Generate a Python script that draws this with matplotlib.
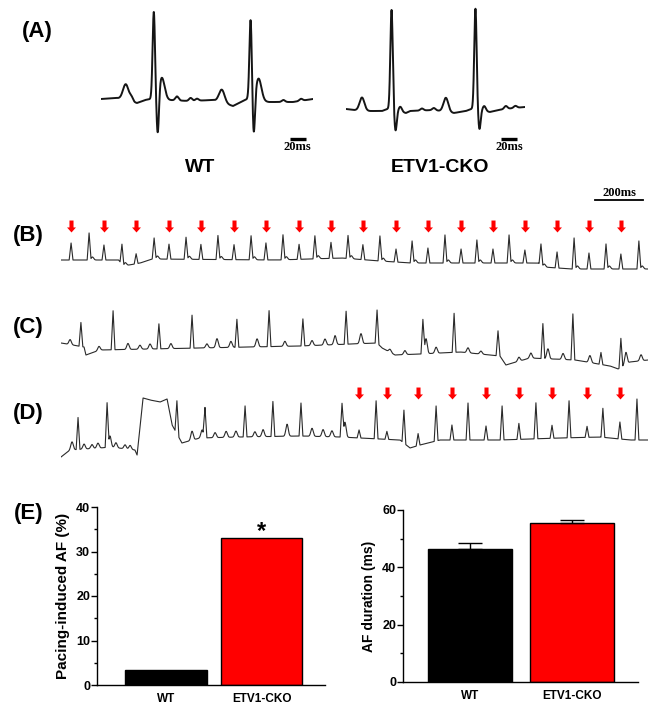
import numpy as np
import matplotlib.pyplot as plt
from matplotlib.path import Path

plt.rcParams["font.family"] = ["Liberation Sans", "DejaVu Sans"]
plt.rcParams["font.weight"] = "bold"

W, H = 661, 707

# ---------------- (A) single beats, time in ms, amplitude in mV
wt_p_t = [31, 151]
wt_p_v = [0.16, 0.13]
wt_r_t = [66, 187]
wt_r_v = [0.87, 0.80]
wt_s_t = [71, 191]
wt_s_v = [-0.41, -0.39]
wt_tw_t = [76, 197]
wt_tw_v = [0.22, 0.22]
wt_bump_t = [38, 95, 112, 120, 228, 250]
wt_bump_v = [0.04, 0.04, 0.03, 0.02, 0.02, 0.02]
wt_base_t = [0, 20, 45, 55, 62, 85, 110, 140, 165, 175, 183, 210, 240, 265]
wt_base_v = [0.0, 0.01, -0.04, -0.01, 0.0, -0.01, -0.02, -0.01, -0.07, -0.03, 0.0, -0.03, -0.03, 0.0]

ko_p_t = [20, 125]
ko_p_v = [0.13, 0.14]
ko_r_t = [57, 162]
ko_r_v = [1.00, 1.01]
ko_s_t = [62, 167]
ko_s_v = [-0.20, -0.19]
ko_tw_t = [68, 173]
ko_tw_v = [0.05, 0.05]
ko_bump_t = [95, 110, 200, 212]
ko_bump_v = [0.02, 0.02, 0.03, 0.02]
ko_base_t = [0, 10, 30, 45, 52, 75, 80, 110, 135, 150, 157, 180, 190, 210, 224]
ko_base_v = [0.0, -0.01, -0.02, -0.02, 0.0, -0.04, -0.02, -0.01, -0.04, -0.02, 0.0, -0.03, -0.01, 0.01, 0.02]

# ---------------- (B) paced rhythm, ms / mV
b_pace_t = [42, 179, 313, 450, 583, 721, 854, 992, 1125, 1258, 1396, 1529, 1667,
            1800, 1933, 2067, 2200, 2333]
b_pace_v = [0.17, 0.15, 0.10, 0.15, 0.15, 0.15, 0.17, 0.15, 0.16, 0.15, 0.13, 0.15,
            0.14, 0.14, 0.13, 0.16, 0.16, 0.15]
b_r_t = [117, 254, 388, 521, 654, 792, 925, 1058, 1196, 1329, 1463, 1600, 1733,
         1867, 2000, 2138, 2271, 2408]
b_r_v = [0.27, 0.20, 0.21, 0.22, 0.24, 0.24, 0.25, 0.23, 0.23, 0.25, 0.22, 0.28,
         0.23, 0.28, 0.21, 0.31, 0.25, 0.28]
b_base_t = [0, 240, 260, 330, 380, 900, 1170, 1330, 1460, 1990, 2010, 2130, 2446]
b_base_v = [0.0, 0.0, -0.06, -0.03, 0.01, 0.0, 0.02, -0.01, -0.03, -0.03, -0.07, -0.09, -0.09]

# ---------------- (C) atrial fibrillation
c_r_t = [83, 217, 408, 546, 733, 867, 1008, 1188, 1317, 1508, 1638, 1821, 2008,
         2133, 2250, 2333]
c_r_v = [0.24, 0.39, 0.25, 0.33, 0.28, 0.36, 0.27, 0.33, 0.33, 0.34, 0.39, 0.25,
         0.35, 0.46, 0.12, 0.29]
c_f_t = [38, 158, 279, 329, 371, 458, 608, 650, 708, 817, 933, 1046, 1100, 1142,
         1250, 1371, 1433, 1521, 1563, 1696, 1750, 1908, 1958, 2029, 2092, 2204,
         2354, 2417]
c_f_v = [0.05, 0.04, 0.06, 0.04, 0.05, 0.05, 0.04, 0.09, 0.06, 0.08, 0.05, 0.05,
         0.06, 0.09, 0.10, 0.03, 0.04, 0.15, 0.06, 0.05, 0.03, 0.04, 0.05, 0.10,
         0.06, 0.07, 0.12, 0.06]
c_base_t = [0, 96, 104, 163, 579, 996, 1317, 1338, 1392, 1496, 1663, 1829, 1854,
            1954, 2142, 2288, 2321, 2371, 2446]
c_base_v = [0.04, 0.0, -0.08, -0.03, -0.01, 0.01, 0.04, -0.01, -0.08, -0.07, -0.05,
            -0.09, -0.18, -0.11, -0.13, -0.19, -0.22, -0.15, -0.13]

# ---------------- (D) AF terminated by pacing
d_r_t = [71, 192, 483, 600, 767, 883, 1000, 1171, 1313, 1429, 1563, 1696, 1838,
         1979, 2117, 2258, 2400]
d_r_v = [0.32, 0.44, 0.33, 0.30, 0.31, 0.35, 0.33, 0.33, 0.38, 0.33, 0.35, 0.37,
         0.34, 0.36, 0.37, 0.29, 0.41]
d_pace_t = [1242, 1358, 1488, 1629, 1771, 1908, 2046, 2192, 2329]
d_pace_v = [0.08, 0.08, 0.12, 0.15, 0.14, 0.16, 0.13, 0.11, 0.17]
d_f_t = [46, 96, 129, 154, 204, 229, 267, 288, 546, 588, 642, 688, 729, 808, 842,
         942, 1046, 1092, 1129, 1183]
d_f_v = [0.08, 0.05, 0.04, 0.05, 0.11, 0.05, 0.04, 0.04, 0.09, 0.08, 0.05, 0.06,
         0.06, 0.05, 0.07, 0.12, 0.08, 0.07, 0.06, 0.15]
d_base_t = [0, 38, 163, 204, 308, 317, 342, 371, 413, 442, 463, 479, 504, 579, 746,
            996, 1163, 1413, 1454, 1496, 1579, 1829, 2079, 2246, 2371, 2446]
d_base_v = [-0.17, -0.10, -0.08, -0.07, -0.10, -0.15, 0.42, 0.40, 0.38, 0.41, 0.15,
            0.08, -0.03, 0.02, 0.03, 0.04, 0.03, 0.0, -0.08, -0.05, 0.0, 0.0, 0.02,
            0.03, 0.0, 0.0]

# ---------------- (E) summary
groups = ["WT", "ETV1-CKO"]
af_incidence = [3.3, 33.0]
af_duration = [46.5, 55.5]
af_duration_err = [2.1, 1.1]
bar_colors = ["#000000", "#ff0000"]

fig = plt.figure(figsize=(W / 100, H / 100), dpi=100)


def px_axes(x0, y0, x1, y1):
    return fig.add_axes([x0 / W, 1 - y1 / H, (x1 - x0) / W, (y1 - y0) / H])


def gauss(t, centers, amps, sigma):
    out = np.zeros_like(t)
    for c, a in zip(centers, amps):
        out += a * np.exp(-0.5 * ((t - c) / sigma) ** 2)
    return out


def spikes(t, centers, amps, half_width=8.0):
    out = np.zeros_like(t)
    for c, a in zip(centers, amps):
        out += a * np.clip(1 - np.abs(t - c) / half_width, 0, None)
    return out


def label(x, y, s, size=14, **kw):
    fig.text(x / W, 1 - y / H, s, ha="center", va="center", fontsize=size,
             fontweight="bold", **kw)


# ---- panel A
t_wt = np.linspace(0, 265, 3000)
y_wt = (np.interp(t_wt, wt_base_t, wt_base_v)
        + gauss(t_wt, wt_p_t, wt_p_v, 3.5)
        + gauss(t_wt, wt_r_t, wt_r_v, 1.5)
        + gauss(t_wt, wt_s_t, wt_s_v, 1.5)
        + gauss(t_wt, wt_tw_t, wt_tw_v, 3.5)
        + gauss(t_wt, wt_bump_t, wt_bump_v, 2.0))
ax = px_axes(101, 0, 313, 150)
ax.plot(t_wt, y_wt, color="#151515", lw=1.4)
ax.plot([236, 256], [-0.40, -0.40], color="black", lw=2.4, solid_capstyle="butt")
ax.text(246, -0.48, "20ms", ha="center", va="center", fontsize=9,
        family="Liberation Serif", fontweight="bold")
ax.set_xlim(0, 265)
ax.set_ylim(-0.51, 0.99)
ax.axis("off")

t_ko = np.linspace(0, 224, 3000)
y_ko = (np.interp(t_ko, ko_base_t, ko_base_v)
        + gauss(t_ko, ko_p_t, ko_p_v, 3.0)
        + gauss(t_ko, ko_r_t, ko_r_v, 1.5)
        + gauss(t_ko, ko_s_t, ko_s_v, 1.5)
        + gauss(t_ko, ko_tw_t, ko_tw_v, 2.0)
        + gauss(t_ko, ko_bump_t, ko_bump_v, 2.0))
ax = px_axes(346, 0, 525, 150)
ax.plot(t_ko, y_ko, color="#151515", lw=1.4)
ax.plot([194, 214], [-0.30, -0.30], color="black", lw=2.4, solid_capstyle="butt")
ax.text(204, -0.38, "20ms", ha="center", va="center", fontsize=9,
        family="Liberation Serif", fontweight="bold")
ax.set_xlim(0, 224)
ax.set_ylim(-0.41, 1.09)
ax.axis("off")

label(37, 32, "(A)", 16)
label(200, 168, "WT", 14)
label(440, 168, "ETV1-CKO", 14)

# ---- panels B-D
arrow = Path([(-0.17, 0.5), (0.17, 0.5), (0.17, -0.08), (0.375, -0.08), (0, -0.5),
              (-0.375, -0.08), (-0.17, -0.08), (-0.17, 0.5)], closed=True)
t = np.arange(0, 2446, 0.5)
trace_kw = dict(color="#2a2a2a", lw=0.8)

y_b = (np.interp(t, b_base_t, b_base_v) + spikes(t, b_pace_t, b_pace_v)
       + spikes(t, b_r_t, b_r_v) + gauss(t, np.array(b_r_t) + 14, [0.03] * len(b_r_t), 5))
ax = px_axes(61, 185, 648, 275)
ax.plot(t, y_b, **trace_kw)
ax.plot(b_pace_t, [0.34] * len(b_pace_t), marker=arrow, markersize=8.6, color="#ff0000",
        markeredgewidth=0, linestyle="none")
ax.plot([2225, 2425], [0.60, 0.60], color="black", lw=1.3)
ax.text(2325, 0.67, "200ms", ha="center", va="center", fontsize=9,
        family="Liberation Serif", fontweight="bold")
ax.set_xlim(0, 2446)
ax.set_ylim(-0.15, 0.75)
ax.axis("off")

y_c = (np.interp(t, c_base_t, c_base_v) + spikes(t, c_r_t, c_r_v)
       + gauss(t, c_f_t, c_f_v, 5))
ax = px_axes(61, 290, 648, 385)
ax.plot(t, y_c, **trace_kw)
ax.set_xlim(0, 2446)
ax.set_ylim(-0.38, 0.57)
ax.axis("off")

y_d = (np.interp(t, d_base_t, d_base_v) + spikes(t, d_r_t, d_r_v)
       + spikes(t, d_pace_t, d_pace_v) + gauss(t, d_f_t, d_f_v, 5))
ax = px_axes(61, 380, 648, 465)
ax.plot(t, y_d, **trace_kw)
ax.plot(d_pace_t, [0.475] * len(d_pace_t), marker=arrow, markersize=8.6, color="#ff0000",
        markeredgewidth=0, linestyle="none")
ax.set_xlim(0, 2446)
ax.set_ylim(-0.25, 0.60)
ax.axis("off")

label(28, 235, "(B)", 16)
label(28, 328, "(C)", 16)
label(28, 413, "(D)", 16)
label(29, 513, "(E)", 16)


# ---- panel E
def style_bar_axes(ax, ylabel, size):
    for side in ("top", "right"):
        ax.spines[side].set_visible(False)
    for side in ("left", "bottom"):
        ax.spines[side].set_linewidth(1.0)
    ax.tick_params(axis="y", which="major", direction="out", length=4, width=1,
                   labelsize=9, pad=1)
    ax.tick_params(axis="y", which="minor", direction="out", length=2.5, width=1)
    ax.tick_params(axis="x", length=0, labelsize=8.5, pad=6)
    ax.set_xticks(range(len(groups)))
    ax.set_xticklabels(groups, fontweight="bold")
    for lab in ax.get_yticklabels():
        lab.set_fontweight("bold")
    ax.set_ylabel(ylabel, fontsize=size, fontweight="bold")


ax = px_axes(97, 507, 325, 685)
ax.bar(range(len(groups)), af_incidence, width=0.85, color=bar_colors,
       edgecolor="black", linewidth=1)
ax.text(1, af_incidence[1] - 1.0, "*", ha="center", va="bottom", fontsize=17,
        fontweight="bold")
ax.set_xlim(-0.72, 1.66)
ax.set_ylim(0, 40)
ax.set_yticks([0, 10, 20, 30, 40])
ax.set_yticks([5, 15, 25, 35], minor=True)
style_bar_axes(ax, "Pacing-induced AF (%)", 11)

ax = px_axes(403, 510, 638, 682)
ax.bar(range(len(groups)), af_duration, width=0.83, color=bar_colors,
       edgecolor="black", linewidth=1,
       yerr=[[0, 0], af_duration_err], error_kw=dict(ecolor="black", elinewidth=1,
                                                    capsize=8.5, capthick=1))
ax.set_xlim(-0.66, 1.65)
ax.set_ylim(0, 60)
ax.set_yticks([0, 20, 40, 60])
ax.set_yticks([10, 30, 50], minor=True)
style_bar_axes(ax, "AF duration (ms)", 10)

fig.savefig("out.png", dpi=100)
